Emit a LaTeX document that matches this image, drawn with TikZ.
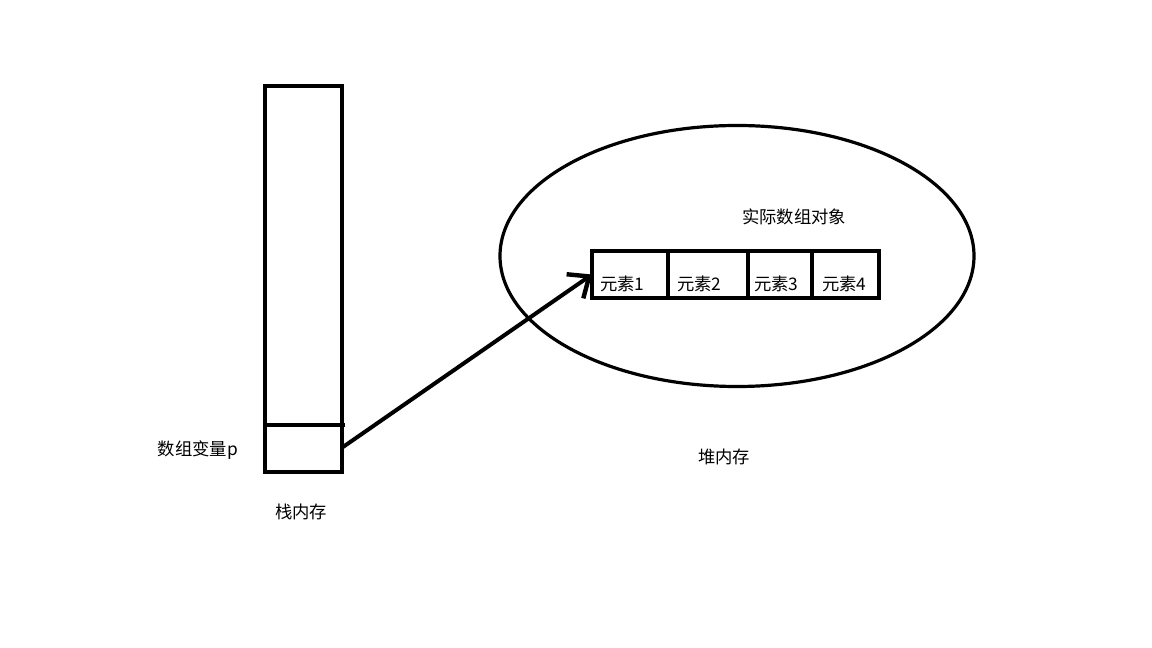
\documentclass[tikz,border=0pt]{standalone}
\usepackage{fontspec}
\setmainfont{Liberation Sans}
\newfontfamily\cjk{Noto Sans CJK SC}
\usetikzlibrary{arrows.meta,shapes.geometric}
\begin{document}
\begin{tikzpicture}[x=0.75pt,y=-0.75pt,
  lbl/.style={font=\cjk\fontsize{13}{15}\selectfont, inner sep=0pt},
  elbl/.style={font=\cjk\fontsize{13}{15}\selectfont, inner sep=0pt, anchor=west},
  thick box/.style={draw=black, line width=3.6pt, outer sep=0pt},
  cell/.style={draw=black, line width=3.6pt, outer sep=0pt, minimum height=47*0.75pt, inner sep=0pt, anchor=west}]
\useasboundingbox[fill=white] (0,0) rectangle (1152,648);
% stack
\node[thick box, minimum width=77*0.75pt, minimum height=386*0.75pt, inner sep=0pt, anchor=north west] (stack) at (265,86) {};
\coordinate (divL) at (265,425);
\coordinate (divR) at (345,425);
\draw[line width=3pt] (divL) -- (divR);
\coordinate (pcell) at (343,447);
\node[lbl] (pvar) at (198,450) {数组变量p};
\node[lbl] (stacklbl) at (301,512) {栈内存};
% heap ellipse
\node[ellipse, draw=black, line width=2.4pt, minimum width=474*0.75pt, minimum height=261*0.75pt, inner sep=0pt] (heap) at (737,256) {};
\node[lbl] (arrlbl) at (794,217) {实际数组对象};
\node[lbl] (heaplbl) at (724,457) {堆内存};
% array cells
\node[cell, minimum width=76*0.75pt] (e1) at (592,274.5) {};
\node[cell, minimum width=80*0.75pt] (e2) at (668,274.5) {};
\node[cell, minimum width=64*0.75pt] (e3) at (748,274.5) {};
\node[cell, minimum width=67*0.75pt] (e4) at (812,274.5) {};
\node[elbl] (t1) at (600,284) {元素1};
\node[elbl] (t2) at (677,284) {元素2};
\node[elbl] (t3) at (754,284) {元素3};
\node[elbl] (t4) at (822,284) {元素4};
% arrow
\draw[line width=3pt, -{Straight Barb[length=13pt, width=22pt, line width=3.3pt]}] (pcell) -- (e1.west);
\end{tikzpicture}
\end{document}
